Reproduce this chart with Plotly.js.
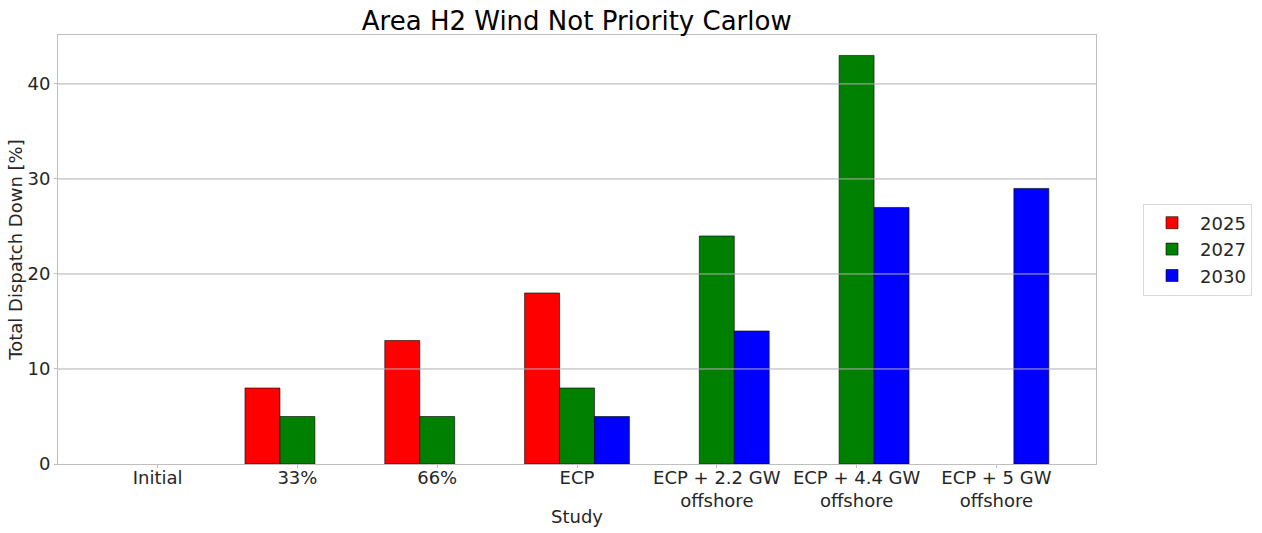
<!DOCTYPE html>
<html><head><meta charset="utf-8">
<script src="https://cdn.plot.ly/plotly-3.0.1.min.js"></script>
<style>body{margin:0;background:#fff}#chart{width:1262px;height:533px}</style>
</head><body><div id="chart"></div>
<script>
const categories = ["Initial", "33%", "66%", "ECP", "ECP + 2.2 GW<br>offshore", "ECP + 4.4 GW<br>offshore", "ECP + 5 GW<br>offshore"];
const years = ["2025", "2027", "2030"];
const values2025 = [0, 8, 13, 18, 0, 0, 0];
const values2027 = [0, 5, 5, 8, 24, 43, 0];
const values2030 = [0, 0, 0, 5, 14, 27, 29];
const colors = ["#ff0000", "#008000", "#0000ff"];
const offsets = [-0.25, 0, 0.25];
const gridVals = [10, 20, 30, 40];

const series = [values2025, values2027, values2030];
const idx = categories.map((_, i) => i);
const traces = series.map((vals, k) => ({
  type: "bar",
  name: years[k],
  x: idx.map(i => i + offsets[k]),
  y: vals.map(v => v === 0 ? null : v),
  width: 0.25,
  marker: {color: colors[k], line: {color: "rgba(0,0,0,0.75)", width: 0.8}},
  hoverinfo: "x+y"
}));

const shapes = gridVals.map(v => ({
  type: "line", xref: "paper", yref: "y", x0: 0, x1: 1, y0: v, y1: v,
  line: {color: "#b0b0b0", width: 1}, layer: "above"
}));

const layout = {
  width: 1262, height: 533,
  margin: {l: 58, r: 166, t: 35, b: 69, autoexpand: false},
  paper_bgcolor: "#fff", plot_bgcolor: "#fff",
  font: {family: "DejaVu Sans", size: 18, color: "#262626"},
  title: {text: "Area H2 Wind Not Priority Carlow", font: {size: 26, color: "#000"}, x: 0.457, xanchor: "center", y: 0.96, yanchor: "middle"},
  barmode: "overlay",
  showlegend: true,
  legend: {x: 1.0453, xanchor: "left", y: 0.5, yanchor: "middle", bgcolor: "#fff", bordercolor: "#d9d9d9", borderwidth: 1, font: {size: 18, color: "#262626"}, tracegroupgap: 2, itemwidth: 46},
  xaxis: {
    range: [-0.7125, 6.7125],
    tickmode: "array", tickvals: idx, ticktext: categories,
    showgrid: false, zeroline: false,
    showline: true, linecolor: "#bfbfbf", linewidth: 1, mirror: true,
    ticks: "outside", ticklen: 3, tickcolor: "#bfbfbf",
    ticklabelstandoff: -6,
    tickfont: {size: 18, color: "#262626"},
    title: {text: "Study", font: {size: 18, color: "#262626"}, standoff: 0}
  },
  yaxis: {
    range: [0, 45.15],
    tickvals: [0, 10, 20, 30, 40],
    showgrid: false, zeroline: false,
    showline: true, linecolor: "#bfbfbf", linewidth: 1, mirror: true,
    ticks: "outside", ticklen: 3, tickcolor: "#bfbfbf",
    tickfont: {size: 18, color: "#262626"},
    title: {text: "Total Dispatch Down [%]", font: {size: 18, color: "#262626"}, standoff: 0}
  },
  shapes: shapes
};

Plotly.newPlot("chart", traces, layout, {displayModeBar: false, staticPlot: true});
</script></body></html>
